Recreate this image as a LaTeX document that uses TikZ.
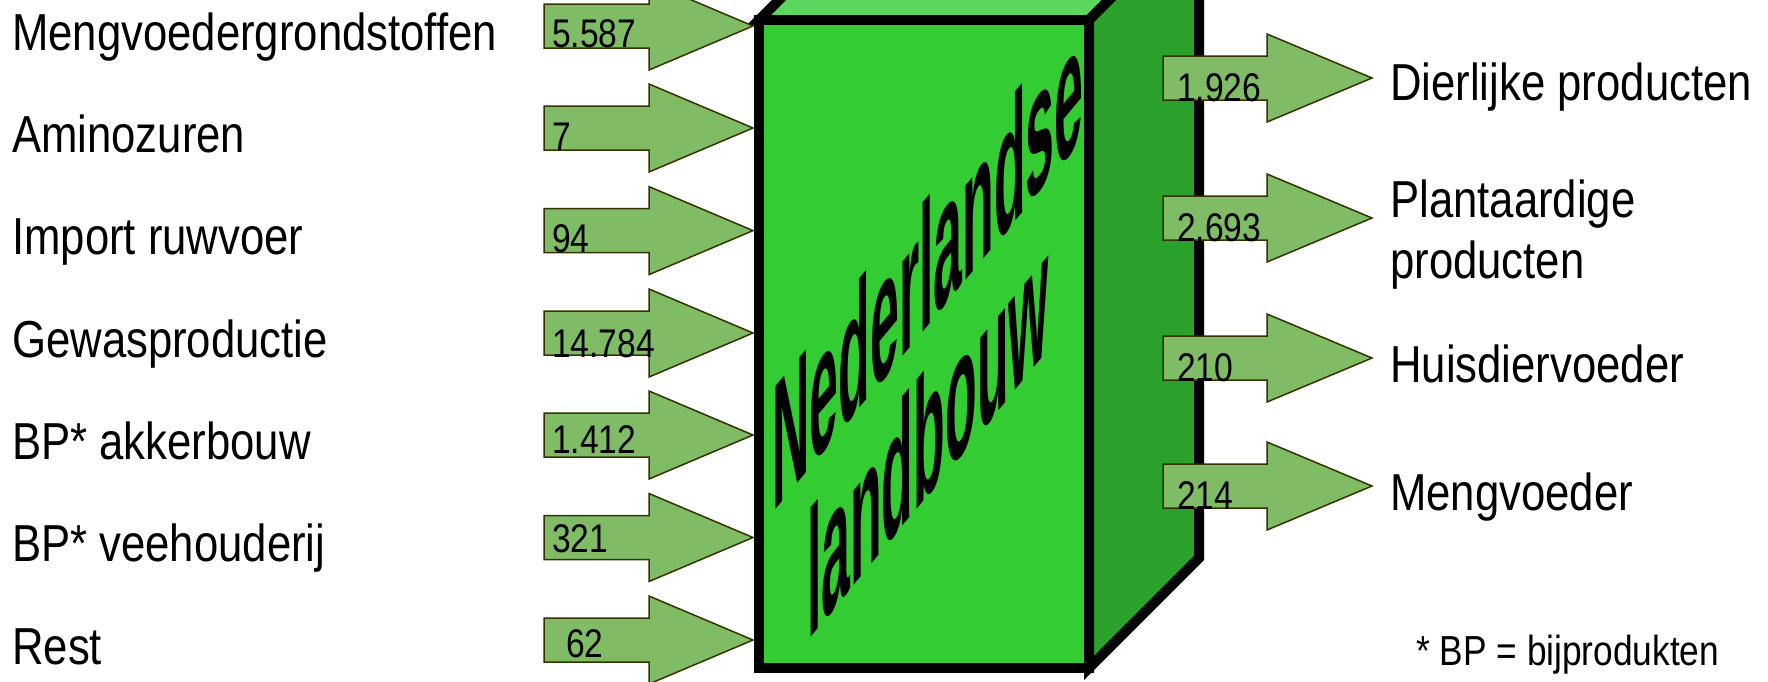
\documentclass[tikz,border=0pt]{standalone}
\usepackage{fontspec}
\setmainfont{Liberation Sans}[FakeStretch=0.84]
\newfontfamily\cubefont{Liberation Sans}
\definecolor{arrowfill}{RGB}{128,187,102}
\definecolor{arrowline}{RGB}{51,51,0}
\definecolor{frontface}{RGB}{51,204,51}
\definecolor{sideface}{RGB}{42,161,42}
\definecolor{topface}{RGB}{92,214,92}
\tikzset{
  blockarrow/.style={fill=arrowfill, draw=arrowline, line width=1.5pt, line join=miter},
  cubeedge/.style={draw=black, line width=10pt, line join=miter},
  lbl/.style={anchor=base west, inner sep=0pt, font=\fontsize{52}{62}\selectfont},
  num/.style={anchor=base west, inner sep=0pt, font=\fontsize{40}{48}\selectfont},
  cubetext/.style={inner sep=0pt, align=center, font=\cubefont\bfseries\fontsize{48}{45.7}\selectfont},
}
\newcommand\drawblockarrow[5]{% name, shaft start x, head start x, tip x, centre y
  \draw[blockarrow] (#2,#5-22) -- (#3,#5-22) -- (#3,#5-44) -- (#4,#5) -- (#3,#5+44)
    -- (#3,#5+22) -- (#2,#5+22) -- cycle;
  \coordinate (#1) at (#4,#5);}
\begin{document}
\begin{tikzpicture}[x=1pt,y=-1pt]
\useasboundingbox (0,0) rectangle (1768,681);
\clip (0,0) rectangle (1768,681);
% cube
\coordinate (ftl) at (759,20);
\coordinate (ftr) at (1089,20);
\coordinate (fbr) at (1089,668);
\coordinate (fbl) at (759,668);
\coordinate (btl) at (869,-90);
\coordinate (btr) at (1199,-90);
\coordinate (bbr) at (1199,558);
\filldraw[cubeedge, fill=topface] (ftl) -- (btl) -- (btr) -- (ftr) -- cycle;
\filldraw[cubeedge, fill=sideface] (ftr) -- (btr) -- (bbr) -- (fbr) -- cycle;
\filldraw[cubeedge, fill=frontface] (ftl) -- (ftr) -- (fbr) -- (fbl) -- cycle;
\node[cubetext, cm={1.08,1.30,0,3.72,(0,0)}] (title) at (928,347) {Nederlandse\\landbouw};
% input arrows
\foreach \i/\yc/\lab/\val/\dy/\nx in {
  1/26/Mengvoedergrondstoffen/5.587/21/552,
  2/128/Aminozuren/7/22/552,
  3/230.6/Import ruwvoer/94/22/552,
  4/333/Gewasproductie/14.784/24/552,
  5/435/BP* akkerbouw/1.412/18/552,
  6/537.5/BP* veehouderij/321/15/552,
  7/640/Rest/62/17/566}{
  \drawblockarrow{in\i}{544}{649}{753}{\yc}
  \node[num] (inval\i) at (\nx,\yc+\dy) {\val};
  \node[lbl] (inlab\i) at (12,\yc+24) {\lab};
}
% output arrows
\foreach \i/\yc/\val in {1/78/1.926, 2/218/2.693, 3/358/210, 4/486/214}{
  \drawblockarrow{out\i}{1163}{1267}{1372}{\yc}
  \node[num] (outval\i) at (1177,\yc+23) {\val};
}
\node[lbl] (outlab1) at (1390,100) {Dierlijke producten};
\node[lbl] (outlab2) at (1390,217) {Plantaardige};
\node[lbl] (outlab2b) at (1390,278) {producten};
\node[lbl] (outlab3) at (1390,382) {Huisdiervoeder};
\node[lbl] (outlab4) at (1390,510) {Mengvoeder};
\node[anchor=base west, inner sep=0pt, font=\fontsize{42}{50}\selectfont] (note) at (1416,665) {* BP = bijprodukten};
\end{tikzpicture}
\end{document}
